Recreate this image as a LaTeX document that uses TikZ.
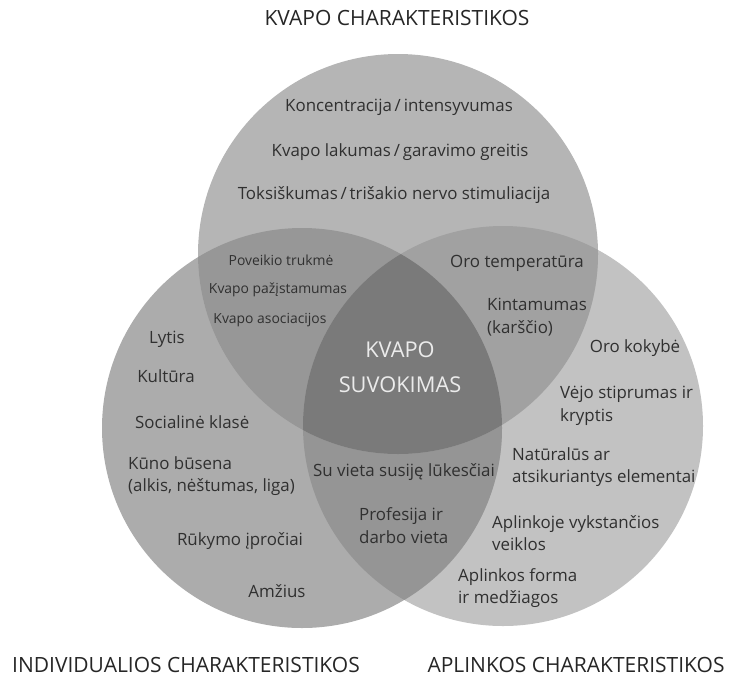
\documentclass[tikz,border=0pt]{standalone}
\usepackage{fontspec}
\setmainfont{Open Sans}
\usetikzlibrary{positioning}

\definecolor{topfill}{HTML}{B5B5B5}
\definecolor{leftfill}{HTML}{ACACAC}
\definecolor{rightfill}{HTML}{C2C2C2}
\definecolor{toplfill}{HTML}{979797}
\definecolor{toprfill}{HTML}{A1A1A1}
\definecolor{lrfill}{HTML}{959595}
\definecolor{midfill}{HTML}{7A7A7A}
\definecolor{txtgray}{HTML}{303030}

\tikzset{
  titre/.style={text=black!85, inner sep=0pt, font=\fontsize{21}{24}\selectfont},
  texte/.style={text=txtgray, inner sep=0pt, font=\fontsize{16.9}{22.8}\selectfont},
  petit/.style={text=txtgray, inner sep=0pt, font=\fontsize{13.9}{16}\selectfont},
  centre/.style={text=white!92!black, inner sep=0pt, align=center, font=\fontsize{21.8}{35}\selectfont}
}

\begin{document}
\begin{tikzpicture}[x=1pt,y=-1pt]
\useasboundingbox (0,0) rectangle (730,678);

%%%%%%%%%%%%%%%%%%%%%%
%%%	 Def géométrie  %%%
%%%%%%%%%%%%%%%%%%%%%%

\def \rayon{200}
\coordinate (ctop) at (398,254);
\coordinate (cleft) at (302,428);
\coordinate (cright) at (503,426);

%%%%%%%%%%%%%%%%%%%%%%
%%%	    Cercles     %%%
%%%%%%%%%%%%%%%%%%%%%%

\fill[rightfill] (cright) circle (\rayon);
\fill[leftfill] (cleft) circle (\rayon);
\fill[topfill] (ctop) circle (\rayon);

% intersection gauche / droite
\begin{scope}
	\clip (cleft) circle (\rayon);
	\fill[lrfill] (cright) circle (\rayon);
\end{scope}

% intersections avec le cercle du haut
\begin{scope}
	\clip (ctop) circle (\rayon);
	\fill[toplfill] (cleft) circle (\rayon);
	\fill[toprfill] (cright) circle (\rayon);
	\clip (cleft) circle (\rayon);
	\fill[midfill] (cright) circle (\rayon);
\end{scope}

%%%%%%%%%%%%%%%%%%%%%%
%%%	    Titres      %%%
%%%%%%%%%%%%%%%%%%%%%%

\node[titre] (kvapochar) at (397,18) {KVAPO CHARAKTERISTIKOS};
\node[titre] (indivchar) at (186,665) {INDIVIDUALIOS CHARAKTERISTIKOS};
\node[titre] (aplinkchar) at (576,665) {APLINKOS CHARAKTERISTIKOS};

%%%%%%%%%%%%%%%%%%%%%%
%%%	    Textes      %%%
%%%%%%%%%%%%%%%%%%%%%%

% cercle du haut
\node[texte] (koncentr) at (399,107) {Koncentracija\,/\,intensyvumas};
\node[texte] (lakumas) at (400,152) {Kvapo lakumas\,/\,garavimo greitis};
\node[texte] (toksisk) at (394,195) {Toksiškumas\,/\,trišakio nervo stimuliacija};

% haut et gauche
\node[petit] (poveikio) at (281,260) {Poveikio trukmė};
\node[petit] (pazist) at (278,290) {Kvapo pažįstamumas};
\node[petit] (asociac) at (270,320) {Kvapo asociacijos};

% haut et droite
\node[texte] (orotemp) at (517,263) {Oro temperatūra};
\node[texte, align=left, anchor=west] (kintam) at (487,317) {Kintamumas\\(karščio)};

% centre
\node[centre] (suvokimas) at (400,367) {KVAPO\\SUVOKIMAS};

% cercle de gauche
\node[texte] (lytis) at (167,339) {Lytis};
\node[texte] (kultura) at (166,376) {Kultūra};
\node[texte, anchor=west] (socklase) at (135,422) {Socialinė klasė};
\node[texte, align=left, anchor=west] (kuno) at (128,476) {Kūno būsena\\(alkis, nėštumas, liga)};
\node[texte] (rukymo) at (240,541) {Rūkymo įpročiai};
\node[texte] (amzius) at (277,591) {Amžius};

% gauche et droite
\node[texte] (lukesciai) at (404,472) {Su vieta susiję lūkesčiai};
\node[texte, align=left, anchor=west] (profesija) at (359,526) {Profesija ir\\darbo vieta};

% cercle de droite
\node[texte] (orokok) at (635,348) {Oro kokybė};
\node[texte, align=left, anchor=west] (vejo) at (560,406) {Vėjo stiprumas ir\\kryptis};
\node[texte, align=left, anchor=west] (natural) at (512,467) {Natūralūs ar\\atsikuriantys elementai};
\node[texte, align=left, anchor=west] (veiklos) at (492,533) {Aplinkoje vykstančios\\veiklos};
\node[texte, align=left, anchor=west] (forma) at (458,588) {Aplinkos forma\\ir medžiagos};

\end{tikzpicture}
\end{document}
